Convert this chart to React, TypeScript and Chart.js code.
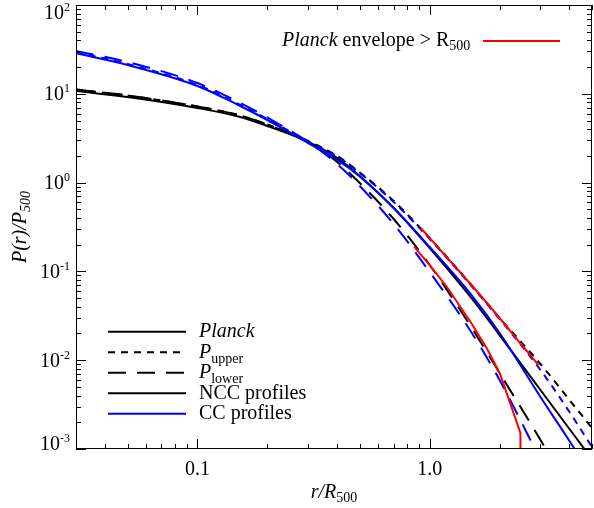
import React, { useEffect, useRef } from "react";
import { Chart, registerables } from "chart.js";

Chart.register(...registerables);

// r / R500 sample radii (shared by the six profile curves)
const rGrid = [0.03, 0.05, 0.1, 0.15, 0.2, 0.3, 0.4, 0.5, 0.7, 1.0, 1.5, 2.0, 3.0, 4.0, 5.0];

// NCC profiles (black)
const nccMean = [10.75, 9.2, 6.92, 5.55, 4.34, 2.87, 1.89, 1.187, 0.518, 0.1834, 0.0515, 0.0192, 0.00462, 0.00168, 0.00077];
const nccUpper = [11.18, 9.57, 7.19, 5.77, 4.51, 2.94, 1.993, 1.299, 0.6205, 0.2377, 0.0721, 0.02987, 0.00906, 0.00356, 0.001724];
const nccLower = [11.18, 9.57, 7.19, 5.77, 4.51, 2.83, 1.706, 0.9897, 0.389, 0.118, 0.02427, 0.00718, 0.001263, 0.000345, null];

// CC profiles (blue)
const ccMean = [28.6, 21.1, 12.24, 7.48, 5.07, 2.79, 1.797, 1.171, 0.5176, 0.1883, 0.0557, 0.02024, 0.00385, 0.00123, 0.000484];
const ccUpper = [29.33, 21.65, 12.57, 7.68, 5.2, 2.9, 1.967, 1.283, 0.6046, 0.2317, 0.0703, 0.02911, 0.00776, 0.00261, 0.001053];
const ccLower = [30.34, 22.81, 13.23, 8.09, 5.41, 2.87, 1.62, 0.9156, 0.3418, 0.0984, 0.02132, 0.00598, 0.000752, null, null];

// Planck envelope beyond R500 (red)
const envUpperR = [0.918, 1.0, 1.224, 1.5, 2.0, 2.45, 2.94];
const envUpperP = [0.3058, 0.2377, 0.131, 0.0721, 0.02987, 0.01562, 0.00883];
const envLowerR = [0.857, 1.0, 1.185, 1.5, 1.762, 2.01, 2.458, 2.475];
const envLowerP = [0.1897, 0.118, 0.0672, 0.02693, 0.01361, 0.00699, 0.001514, 0.0001];

// axis ticks
const xMajor = [0.1, 1.0];
const xMajorLabels = ["0.1", "1.0"];
const xMinor = [0.03, 0.04, 0.05, 0.06, 0.07, 0.08, 0.09, 0.2, 0.3, 0.4, 0.5, 0.6, 0.7, 0.8, 0.9, 2, 3, 4, 5];
const yDecades = [-3, -2, -1, 0, 1, 2];

const FONT = '"Liberation Serif", "Times New Roman", Times, serif';
const SHORT_DASH = [7, 6];
const LONG_DASH = [18, 11];

type Part = { t: string; size: number; italic?: boolean; dy?: number };

function rich(ctx: CanvasRenderingContext2D, parts: Part[], x: number, y: number, align: "left" | "center" | "right") {
  let w = 0;
  for (const p of parts) {
    ctx.font = `${p.italic ? "italic " : ""}${p.size}px ${FONT}`;
    w += ctx.measureText(p.t).width;
  }
  let cx = align === "left" ? x : align === "center" ? x - w / 2 : x - w;
  ctx.textAlign = "left";
  ctx.textBaseline = "alphabetic";
  for (const p of parts) {
    ctx.font = `${p.italic ? "italic " : ""}${p.size}px ${FONT}`;
    ctx.fillText(p.t, cx, y + (p.dy || 0));
    cx += ctx.measureText(p.t).width;
  }
}

function series(xs: number[], ys: (number | null)[]) {
  const out: { x: number; y: number }[] = [];
  xs.forEach((x, i) => {
    const y = ys[i];
    if (y !== null && y !== undefined) out.push({ x, y });
  });
  return out;
}

const framePlugin = {
  id: "idlFrame",
  afterDraw(chart: any) {
    const ctx: CanvasRenderingContext2D = chart.ctx;
    const { left, right, top, bottom } = chart.chartArea;
    const xs = chart.scales.x;
    const ys = chart.scales.y;
    ctx.save();
    ctx.strokeStyle = "#000";
    ctx.fillStyle = "#000";
    ctx.lineWidth = 1;
    ctx.setLineDash([]);
    ctx.strokeRect(left + 0.5, top + 0.5, right - left - 1, bottom - top - 1);

    const hline = (x1: number, x2: number, y: number) => {
      ctx.beginPath();
      ctx.moveTo(x1, Math.round(y) + 0.5);
      ctx.lineTo(x2, Math.round(y) + 0.5);
      ctx.stroke();
    };
    const vline = (x: number, y1: number, y2: number) => {
      ctx.beginPath();
      ctx.moveTo(Math.round(x) + 0.5, y1);
      ctx.lineTo(Math.round(x) + 0.5, y2);
      ctx.stroke();
    };
    yDecades.forEach((n) => {
      const py = ys.getPixelForValue(Math.pow(10, n));
      hline(left, left + 10, py);
      hline(right, right - 10, py);
      if (n < 2) {
        for (let k = 2; k <= 9; k++) {
          const pm = ys.getPixelForValue(k * Math.pow(10, n));
          hline(left, left + 5, pm);
          hline(right, right - 5, pm);
        }
      }
      const base = Math.min(450, Math.max(18.5, py + 6.5));
      rich(ctx, [{ t: "10", size: 20 }, { t: String(n), size: 12, dy: -8 }], 70, base, "right");
    });
    xMajor.forEach((v, i) => {
      const px = xs.getPixelForValue(v);
      vline(px, bottom, bottom - 10);
      vline(px, top, top + 10);
      rich(ctx, [{ t: xMajorLabels[i], size: 20 }], px, 475, "center");
    });
    xMinor.forEach((v) => {
      const px = xs.getPixelForValue(v);
      vline(px, bottom, bottom - 5);
      vline(px, top, top + 5);
    });

    rich(ctx, [{ t: "r/R", size: 20, italic: true }, { t: "500", size: 14, dy: 4 }], (left + right) / 2, 498, "center");
    ctx.save();
    ctx.translate(26, (top + bottom) / 2);
    ctx.rotate(-Math.PI / 2);
    rich(ctx, [{ t: "P(r)/P", size: 20, italic: true }, { t: "500", size: 14, italic: true, dy: 4 }], 0, 0, "center");
    ctx.restore();

    const rows: { dash: number[]; color: string; parts: Part[] }[] = [
      { dash: [], color: "#000", parts: [{ t: "Planck", size: 20, italic: true }] },
      { dash: SHORT_DASH, color: "#000", parts: [{ t: "P", size: 20, italic: true }, { t: "upper", size: 14, dy: 5 }] },
      { dash: LONG_DASH, color: "#000", parts: [{ t: "P", size: 20, italic: true }, { t: "lower", size: 14, dy: 5 }] },
      { dash: [], color: "#000", parts: [{ t: "NCC profiles", size: 20 }] },
      { dash: [], color: "#0000ff", parts: [{ t: "CC profiles", size: 20 }] },
    ];
    rows.forEach((r, i) => {
      const y = 331.7 + i * 20.5;
      ctx.strokeStyle = r.color;
      ctx.lineWidth = 2;
      ctx.setLineDash(r.dash);
      ctx.beginPath();
      ctx.moveTo(108, y);
      ctx.lineTo(186, y);
      ctx.stroke();
      ctx.setLineDash([]);
      ctx.fillStyle = "#000";
      rich(ctx, r.parts, 199, y + 5.5, "left");
    });

    rich(
      ctx,
      [
        { t: "Planck", size: 20, italic: true },
        { t: " envelope > R", size: 20 },
        { t: "500", size: 14, dy: 4 },
      ],
      282,
      46,
      "left"
    );
    ctx.strokeStyle = "#ff0000";
    ctx.lineWidth = 2;
    ctx.beginPath();
    ctx.moveTo(483, 41);
    ctx.lineTo(560, 41);
    ctx.stroke();
    ctx.restore();
  },
};

export default function App() {
  const ref = useRef<HTMLCanvasElement | null>(null);
  useEffect(() => {
    if (!ref.current) return;
    const common = { pointRadius: 0, borderWidth: 2, fill: false, cubicInterpolationMode: "monotone" as const };
    const chart = new Chart(ref.current, {
      type: "line",
      data: {
        datasets: [
          { ...common, label: "env upper", data: series(envUpperR, envUpperP), borderColor: "#ff0000" },
          { ...common, label: "env lower", data: series(envLowerR, envLowerP), borderColor: "#ff0000", cubicInterpolationMode: "default", tension: 0 },
          { ...common, label: "CC upper", data: series(rGrid, ccUpper), borderColor: "#0000ff", borderDash: SHORT_DASH },
          { ...common, label: "CC lower", data: series(rGrid, ccLower), borderColor: "#0000ff", borderDash: LONG_DASH },
          { ...common, label: "CC", data: series(rGrid, ccMean), borderColor: "#0000ff" },
          { ...common, label: "NCC upper", data: series(rGrid, nccUpper), borderColor: "#000000", borderDash: SHORT_DASH },
          { ...common, label: "NCC lower", data: series(rGrid, nccLower), borderColor: "#000000", borderDash: LONG_DASH },
          { ...common, label: "NCC", data: series(rGrid, nccMean), borderColor: "#000000" },
        ],
      },
      options: {
        animation: false,
        responsive: false,
        devicePixelRatio: 1,
        layout: { padding: { left: 76, right: 2, top: 5, bottom: 59 } },
        scales: {
          x: { type: "logarithmic", min: 0.03, max: 5, display: false },
          y: { type: "logarithmic", min: 0.001, max: 100, display: false },
        },
        plugins: { legend: { display: false }, tooltip: { enabled: false } },
      },
      plugins: [framePlugin],
    } as any);
    return () => chart.destroy();
  }, []);
  return (
    <div style={{ position: "absolute", left: 0, top: 0, width: 594, height: 508, background: "#fff" }}>
      <canvas ref={ref} width={594} height={508} style={{ display: "block" }} />
    </div>
  );
}
